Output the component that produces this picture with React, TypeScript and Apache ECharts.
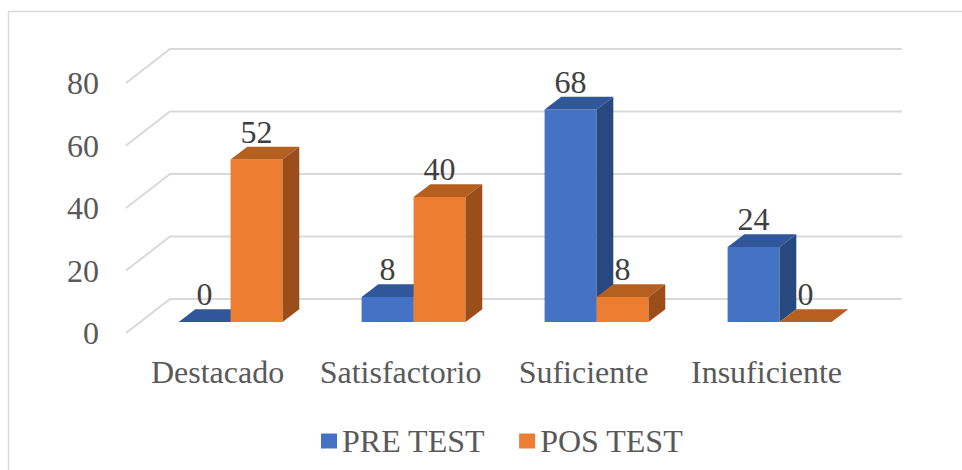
import React, { useEffect, useRef } from "react";
import * as echarts from "echarts";

const categories = ["Destacado", "Satisfactorio", "Suficiente", "Insuficiente"];
const preTest = [0, 8, 68, 24];
const posTest = [52, 40, 8, 0];
const yTicks = [0, 20, 40, 60, 80];
const seriesNames = ["PRE TEST", "POS TEST"];

const FONT = "Liberation Serif";
const DEPTH_X = 44;
const DEPTH_Y = -34;
const FRONT_FRAC = 0.32;
const BACK_FRAC = 0.7;

const palettes = [
  { front: "#4472C4", top: "#30579A", side: "#284880" },
  { front: "#ED7D31", top: "#B5601F", side: "#9C4E1A" },
];

function makeBarRenderer(seriesIdx: number) {
  const pal = palettes[seriesIdx];
  return (params: any, api: any) => {
    const idx = api.value(0);
    const val = api.value(1);
    const base = api.coord([idx, 0]);
    const top = api.coord([idx, val]);
    const band = api.size([1, 0])[0];
    const w = band * 0.284;
    const fx = DEPTH_X * FRONT_FRAC;
    const fy = DEPTH_Y * FRONT_FRAC;
    const ddx = DEPTH_X * (BACK_FRAC - FRONT_FRAC);
    const ddy = DEPTH_Y * (BACK_FRAC - FRONT_FRAC);
    const x1 = base[0] + fx - 1 + (seriesIdx === 0 ? -w : 0);
    const x2 = x1 + w;
    const yb = base[1] + fy;
    const yt = top[1] + fy;
    return {
      type: "group",
      children: [
        {
          type: "rect",
          shape: { x: x1, y: yt, width: w, height: Math.max(0, yb - yt) },
          style: { fill: pal.front },
        },
        {
          type: "polygon",
          shape: {
            points: [
              [x1, yt],
              [x2, yt],
              [x2 + ddx, yt + ddy],
              [x1 + ddx, yt + ddy],
            ],
          },
          style: { fill: pal.top },
        },
        {
          type: "polygon",
          shape: {
            points: [
              [x2, yt],
              [x2 + ddx, yt + ddy],
              [x2 + ddx, yb + ddy],
              [x2, yb],
            ],
          },
          style: { fill: pal.side },
        },
        {
          type: "text",
          x: (x1 + x2) / 2,
          y: yt + ddy - 15,
          style: {
            text: String(val),
            fill: "#404040",
            fontSize: 32,
            fontFamily: FONT,
            align: "center",
            verticalAlign: "middle",
          },
        },
      ],
    };
  };
}

function gridRenderer(params: any, api: any) {
  const v = api.value(1);
  const cs = params.coordSys;
  const y = api.coord([0, v])[1];
  const x = cs.x;
  return {
    type: "polyline",
    shape: {
      points: [
        [x, y],
        [x + DEPTH_X, y + DEPTH_Y],
        [x + cs.width + DEPTH_X, y + DEPTH_Y],
      ],
    },
    style: { stroke: "#D9D9D9", lineWidth: 2, fill: null },
  };
}

export default function App() {
  const ref = useRef<HTMLDivElement>(null);
  useEffect(() => {
    if (!ref.current) return;
    const chart = echarts.init(ref.current, null, { renderer: "svg" });
    chart.setOption({
      animation: false,
      backgroundColor: "#ffffff",
      textStyle: { fontFamily: FONT },
      graphic: [
        {
          type: "rect",
          shape: { x: 8.5, y: 11.5, width: 1000, height: 500 },
          style: { fill: "none", stroke: "#D9D9D9", lineWidth: 1.5 },
          silent: true,
          z: -10,
        },
      ],
      grid: { left: 126, right: 104, top: 83, bottom: 137, containLabel: false },
      legend: {
        data: seriesNames,
        left: 316,
        top: 420,
        icon: "rect",
        itemWidth: 16,
        itemHeight: 15,
        itemGap: 34,
        textStyle: { fontSize: 32, fontFamily: FONT, color: "#595959", lineHeight: 32 },
      },
      xAxis: {
        type: "category",
        data: categories,
        axisLine: { show: false },
        axisTick: { show: false },
        splitLine: { show: false },
        axisLabel: {
          fontSize: 32,
          fontFamily: FONT,
          color: "#595959",
          margin: 23,
          lineHeight: 32,
          interval: 0,
        },
      },
      yAxis: {
        type: "value",
        min: 0,
        max: 80,
        interval: 20,
        axisLine: { show: false },
        axisTick: { show: false },
        splitLine: { show: false },
        axisLabel: {
          fontSize: 32,
          fontFamily: FONT,
          color: "#595959",
          margin: 27,
        },
      },
      series: [
        {
          type: "custom",
          name: "grid",
          renderItem: gridRenderer,
          data: yTicks.map((v) => [0, v]),
          silent: true,
          clip: false,
          z: 1,
        },
        {
          type: "custom",
          name: seriesNames[0],
          itemStyle: { color: palettes[0].front },
          renderItem: makeBarRenderer(0),
          data: preTest.map((v, i) => [i, v]),
          clip: false,
          z: 2,
        },
        {
          type: "custom",
          name: seriesNames[1],
          itemStyle: { color: palettes[1].front },
          renderItem: makeBarRenderer(1),
          data: posTest.map((v, i) => [i, v]),
          clip: false,
          z: 3,
        },
      ],
    });
    return () => chart.dispose();
  }, []);
  return (
    <div
      ref={ref}
      style={{ position: "fixed", left: 0, top: 0, width: 962, height: 470 }}
    />
  );
}
